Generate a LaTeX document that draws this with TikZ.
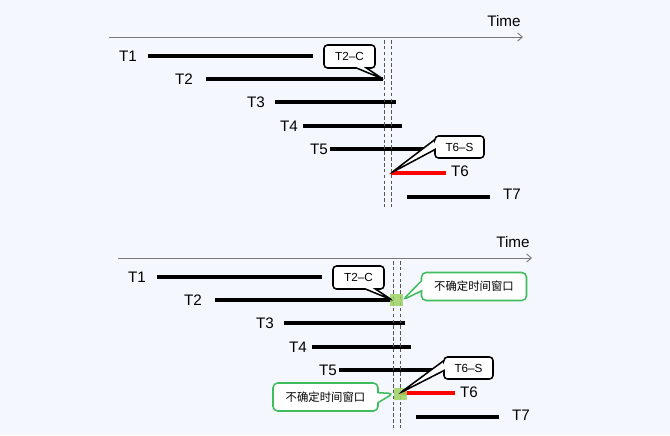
\documentclass[tikz,border=0pt]{standalone}
\usepackage{fontspec}
\setmainfont{Liberation Sans}
\newfontfamily\cjk{Noto Sans CJK SC}
\usepackage{tikz}
\usetikzlibrary{shapes.callouts}
\usetikzlibrary{arrows.meta}
\usepackage{xcolor}
\definecolor{bgblue}{RGB}{244,247,253}
\definecolor{axisgray}{RGB}{120,120,120}
\definecolor{guidegray}{RGB}{85,85,85}
\definecolor{okgreen}{RGB}{62,188,94}
\definecolor{softgreen}{RGB}{158,210,98}

\begin{document}
\begin{tikzpicture}[x=0.03cm,y=-0.03cm,
  axis/.style={axisgray,line width=0.8pt,-{Straight Barb[length=4pt,width=7pt]}},
  job/.style={line width=2.7pt},
  lbl/.style={font=\fontsize{13}{15}\selectfont},
  guide/.style={guidegray,line width=0.7pt,dash pattern=on 3pt off 2pt},
  tag/.style={rectangle callout,draw,line width=1.3pt,fill=white,rounded corners=3pt,
    callout pointer width=0.3cm,inner sep=0pt,minimum width=1.53cm,minimum height=0.69cm,
    font=\fontsize{10}{12}\selectfont},
  note/.style={rectangle callout,draw=okgreen,line width=1.3pt,fill=white,rounded corners=4pt,
    callout pointer width=0.3cm,inner sep=0pt,minimum width=3.15cm,minimum height=0.84cm,
    font={\cjk\fontsize{9.7}{11}\selectfont}},
  patch/.style={fill=softgreen,fill opacity=0.85,inner sep=0pt,minimum width=0.39cm,minimum height=0.36cm}]

\fill[bgblue] (0,0) rectangle (670,435);
\useasboundingbox (0,0) rectangle (670,435);

% upper panel
\draw[axis] (109,37) -- (523,37);
\node[lbl] (timeA) at (504,21) {Time};

\node[lbl] (t1A) at (128,56) {T1};
\draw[job] (148,56) -- (313,56);
\node[lbl] (t2A) at (184,79) {T2};
\draw[job] (206,79) -- (383,79) coordinate (t2endA);
\node[lbl] (t3A) at (256,102) {T3};
\draw[job] (275,102) -- (396,102);
\node[lbl] (t4A) at (289,126) {T4};
\draw[job] (303,126) -- (402,126);
\node[lbl] (t5A) at (319,149) {T5};
\draw[job] (330,149) -- (428,149);
\node[lbl] (t6A) at (460,171) {T6};
\draw[job,red] (391,173) coordinate (t6startA) -- (446,173);
\node[lbl] (t7A) at (512,194) {T7};
\draw[job] (407,197) -- (490,197);

\draw[guide] (384,40) -- (384,207);
\draw[guide] (391,40) -- (391,207);

\node[tag,callout absolute pointer={(t2endA)}] (t2cA) at (349.5,56.5) {T2--C};
\node[tag,minimum width=1.47cm,minimum height=0.66cm,callout absolute pointer={(t6startA)}] (t6sA) at (459.5,147) {T6--S};

% lower panel
\draw[axis] (118,258) -- (532,258);
\node[lbl] (timeB) at (513,242) {Time};

\node[lbl] (t1B) at (137,277) {T1};
\draw[job] (157,277) -- (322,277);
\node[lbl] (t2B) at (193,300) {T2};
\draw[job] (215,300) -- (392,300) coordinate (t2endB);
\node[lbl] (t3B) at (265,323) {T3};
\draw[job] (284,323) -- (405,323);
\node[lbl] (t4B) at (298,347) {T4};
\draw[job] (312,347) -- (411,347);
\node[lbl] (t5B) at (328,370) {T5};
\draw[job] (339,370) -- (437,370);
\node[lbl] (t6B) at (469,392) {T6};
\draw[job,red] (400,393) coordinate (t6startB) -- (455,393);
\node[lbl] (t7B) at (521,415) {T7};
\draw[job] (416,417) -- (499,417);

\draw[guide] (393,261) -- (393,428);
\draw[guide] (400,261) -- (400,428);

\node[patch] (winA) at (396,300) {};
\node[patch] (winB) at (400,393.5) {};

\node[tag,callout absolute pointer={(t2endB)}] (t2cB) at (358.5,277.5) {T2--C};
\node[tag,minimum width=1.47cm,minimum height=0.66cm,callout absolute pointer={(t6startB)}] (t6sB) at (468.5,368) {T6--S};

\node[note,callout absolute pointer={(winA.east)}] (noteA) at (474,286.5) {不确定时间窗口};
\node[note,callout absolute pointer={(winB.west)}] (noteB) at (325.5,397) {不确定时间窗口};

\end{tikzpicture}
\end{document}
